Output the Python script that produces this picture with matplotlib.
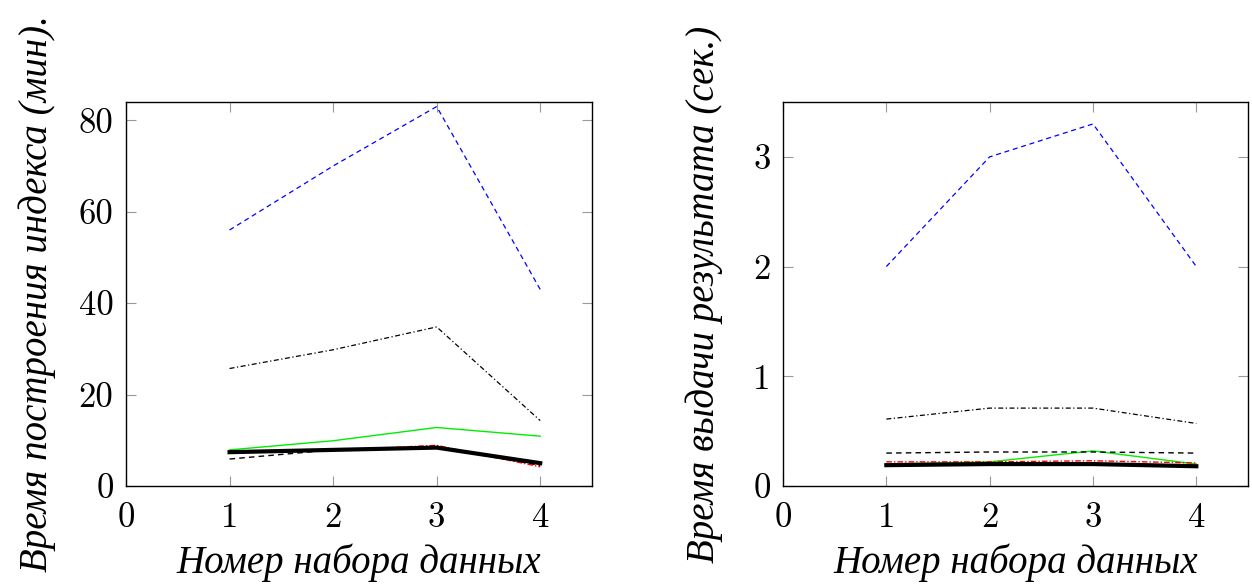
#!/usr/bin/env python3
"""Index build time / query time per dataset, two panels."""

import matplotlib
matplotlib.use("Agg")
import matplotlib.pyplot as plt

DATASETS = [1, 2, 3, 4]

# left panel: index build time (min)
BUILD_BLUE = [56, 70, 83, 43]
BUILD_DASHDOT = [25.7, 29.8, 34.8, 14.3]
BUILD_GREEN = [7.9, 9.9, 12.8, 10.9]
BUILD_DASHED = [5.9, 7.9, 8.5, 4.5]
BUILD_RED = [7.2, 7.8, 8.9, 4.2]
BUILD_THICK = [7.4, 7.9, 8.4, 5.0]

# right panel: query time (sec)
QUERY_BLUE = [2.0, 3.0, 3.3, 2.0]
QUERY_DASHDOT = [0.61, 0.71, 0.71, 0.57]
QUERY_GREEN = [0.20, 0.22, 0.32, 0.20]
QUERY_DASHED = [0.30, 0.31, 0.31, 0.30]
QUERY_RED = [0.22, 0.22, 0.23, 0.21]
QUERY_THICK = [0.19, 0.20, 0.20, 0.18]

LABEL_FONT = ["Liberation Serif", "DejaVu Serif"]
LABEL_FS = 28
TICK_FS = 25


def draw_panel(ax, series, ylim, yticks, ylabel, ylabel_x):
    blue, dashdot, green, dashed, red, thick = series
    ax.plot(DATASETS, blue, color="blue", lw=0.9, dashes=(4, 3))
    ax.plot(DATASETS, dashdot, color="black", lw=0.9, dashes=(4, 2, 1, 2))
    ax.plot(DATASETS, green, color="#00ee00", lw=1.0)
    ax.plot(DATASETS, dashed, color="black", lw=1.0, dashes=(4, 3))
    ax.plot(DATASETS, red, color="red", lw=1.0, dashes=(4, 1.5, 1, 1.5))
    ax.plot(DATASETS, thick, color="black", lw=3.0)

    ax.set_xlim(0, 4.5)
    ax.set_ylim(*ylim)
    ax.set_xticks([0, 1, 2, 3, 4])
    ax.set_yticks(yticks)
    ax.tick_params(direction="in", length=7, width=0.8, color="#999999",
                   top=True, right=True, labelsize=TICK_FS)
    ax.tick_params(axis="x", pad=12)
    ax.tick_params(axis="y", pad=9)
    for lab in ax.get_xticklabels() + ax.get_yticklabels():
        lab.set_fontfamily("cmr10")
    for sp in ax.spines.values():
        sp.set_linewidth(1.0)

    ax.set_xlabel("Номер набора данных", fontsize=LABEL_FS, family=LABEL_FONT, style="italic")
    ax.set_ylabel(ylabel, fontsize=LABEL_FS, family=LABEL_FONT, style="italic")
    ax.xaxis.set_label_coords(0.5, -0.15)
    ax.yaxis.set_label_coords(ylabel_x, 0.5)


def main() -> None:
    fig = plt.figure(figsize=(12.52, 5.84), dpi=100)
    ax1 = fig.add_axes([126 / 1252, 98 / 584, 466 / 1252, 384 / 584])
    ax2 = fig.add_axes([783 / 1252, 98 / 584, 465 / 1252, 384 / 584])

    draw_panel(ax1,
               [BUILD_BLUE, BUILD_DASHDOT, BUILD_GREEN, BUILD_DASHED, BUILD_RED, BUILD_THICK],
               (0, 84), [0, 20, 40, 60, 80],
               "Время построения индекса (мин).", -0.15)
    draw_panel(ax2,
               [QUERY_BLUE, QUERY_DASHDOT, QUERY_GREEN, QUERY_DASHED, QUERY_RED, QUERY_THICK],
               (0, 3.5), [0, 1, 2, 3],
               "Время выдачи результата (сек.)", -0.13)

    fig.savefig("out.png", dpi=100)


if __name__ == "__main__":
    main()
